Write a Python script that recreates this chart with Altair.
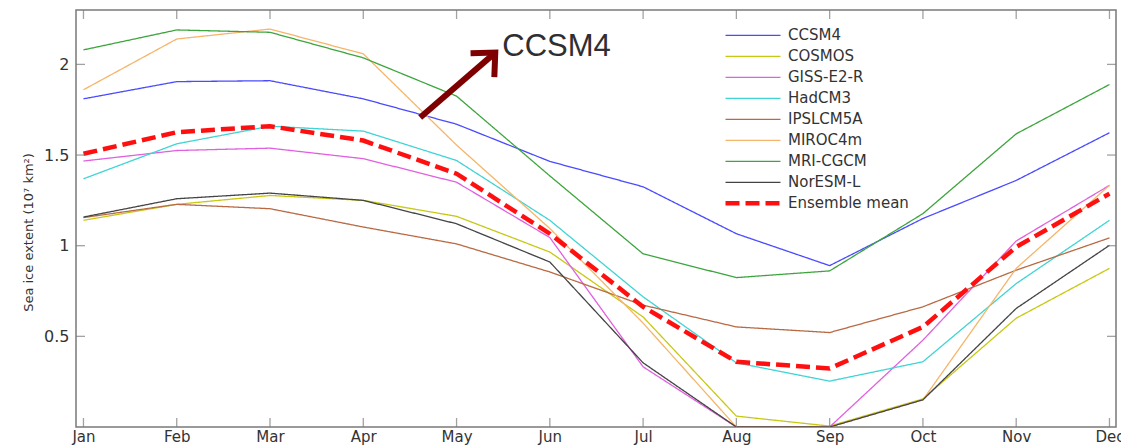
import altair as alt
import pandas as pd

# Monthly mean sea ice extent (10^7 km^2) for each model and the ensemble mean
months = list(range(1, 13))
month_labels = ["Jan", "Feb", "Mar", "Apr", "May", "Jun",
                "Jul", "Aug", "Sep", "Oct", "Nov", "Dec"]

ccsm4 = [1.81, 1.905, 1.91, 1.81, 1.67, 1.465, 1.325, 1.066, 0.89, 1.15, 1.36, 1.623]
cosmos = [1.14, 1.228, 1.277, 1.25, 1.162, 0.965, 0.607, 0.06, 0.005, 0.155, 0.6, 0.875]
giss_e2_r = [1.467, 1.525, 1.538, 1.48, 1.35, 1.045, 0.332, 0.0, 0.0, 0.479, 1.026, 1.333]
hadcm3 = [1.369, 1.562, 1.659, 1.632, 1.47, 1.14, 0.718, 0.354, 0.253, 0.36, 0.791, 1.14]
ipslcm5a = [1.155, 1.228, 1.204, 1.103, 1.01, 0.855, 0.672, 0.552, 0.521, 0.663, 0.865, 1.043]
miroc4m = [1.86, 2.14, 2.195, 2.058, 1.555, 1.095, 0.573, 0.0, 0.0, 0.15, 0.875, 1.333]
mri_cgcm = [2.08, 2.19, 2.177, 2.036, 1.825, 1.385, 0.955, 0.824, 0.861, 1.177, 1.617, 1.889]
noresm_l = [1.158, 1.259, 1.29, 1.25, 1.121, 0.91, 0.354, 0.0, 0.0, 0.15, 0.654, 1.002]
ensemble_mean = [1.507, 1.626, 1.659, 1.58, 1.397, 1.066, 0.663, 0.36, 0.323, 0.552, 0.993, 1.287]

model_names = ["CCSM4", "COSMOS", "GISS-E2-R", "HadCM3", "IPSLCM5A",
               "MIROC4m", "MRI-CGCM", "NorESM-L", "Ensemble mean"]
series = [ccsm4, cosmos, giss_e2_r, hadcm3, ipslcm5a,
          miroc4m, mri_cgcm, noresm_l, ensemble_mean]
line_colors = ["#4a4aff", "#c8c814", "#e060e0", "#40d4d4", "#b86a44",
               "#f5b56a", "#3ea53e", "#444444", "#ff1010"]
line_dashes = [[1, 0]] * 8 + [[14, 6]]
line_widths = [1.3] * 8 + [4.5]

y_ticks = [0.5, 1, 1.5, 2]
x_min, x_max = 0.92, 12.07
y_min, y_max = 0.0, 2.3

# Arrow annotation pointing at the CCSM4 curve
arrow_label = ["CCSM4"]
arrow_label_x = [5.49]
arrow_label_y = [2.095]
arrow_shaft_x = [4.61]
arrow_shaft_y = [1.707]
arrow_shaft_x2 = [5.40]
arrow_shaft_y2 = [2.058]
arrow_head_x = [5.15, 5.415, 5.405]
arrow_head_y = [2.062, 2.065, 1.93]

rows = []
for name, vals in zip(model_names, series):
    for m, v in zip(months, vals):
        rows.append({"month": m, "model": name, "extent": v})
df = pd.DataFrame(rows)

font = "DejaVu Sans"
frame_color = "#7a7a7a"

x_scale = alt.Scale(domain=[x_min, x_max], nice=False, zero=False)
y_scale = alt.Scale(domain=[y_min, y_max], nice=False, zero=False)

label_expr = "[" + ",".join("'%s'" % s for s in month_labels) + "][datum.value - 1]"

x_axis = alt.Axis(values=months, labelExpr=label_expr, title=None, grid=False,
                  ticks=False, domain=False, labelFontSize=15, labelColor="#333333",
                  labelPadding=2, labelFont=font)
y_axis = alt.Axis(values=y_ticks, format="~g", title="Sea ice extent (10⁷ km²)",
                  grid=False, ticks=False, domain=False, labelFontSize=16,
                  labelColor="#333333", labelPadding=7, labelFont=font,
                  titleFont=font, titleFontSize=13, titleFontWeight="normal",
                  titleColor="#333333", titleX=-48, titleY=222, titleAngle=270,
                  titleAlign="center", titleBaseline="middle")

lines = alt.Chart(df).mark_line(clip=True).encode(
    x=alt.X("month:Q", scale=x_scale, axis=x_axis),
    y=alt.Y("extent:Q", scale=y_scale, axis=y_axis),
    color=alt.Color("model:N", scale=alt.Scale(domain=model_names, range=line_colors),
                    sort=model_names,
                    legend=alt.Legend(title=None, orient="none", legendX=647, legendY=15,
                                      symbolType="stroke", symbolSize=3025,
                                      clipHeight=20.6, rowPadding=0, padding=0,
                                      labelOffset=5, labelFont=font, labelFontSize=15,
                                      labelColor="#333333", labelLimit=300)),
    strokeDash=alt.StrokeDash("model:N", scale=alt.Scale(domain=model_names, range=line_dashes),
                              sort=model_names, legend=None),
    strokeWidth=alt.StrokeWidth("model:N",
                                scale=alt.Scale(type="ordinal", domain=model_names, range=line_widths),
                                sort=model_names, legend=None),
    order=alt.Order("month:Q"),
)

tick_months = pd.DataFrame({"month": months})
tick_values = pd.DataFrame({"v": y_ticks})
tick_style = dict(color=frame_color, size=9, thickness=1.3)

bottom_ticks = alt.Chart(tick_months).mark_tick(orient="vertical", yOffset=-4.5, **tick_style).encode(
    x=alt.X("month:Q", scale=x_scale), y=alt.datum(y_min, scale=y_scale))
top_ticks = alt.Chart(tick_months).mark_tick(orient="vertical", yOffset=4.5, **tick_style).encode(
    x=alt.X("month:Q", scale=x_scale), y=alt.datum(y_max, scale=y_scale))
left_ticks = alt.Chart(tick_values).mark_tick(orient="horizontal", xOffset=4.5, **tick_style).encode(
    y=alt.Y("v:Q", scale=y_scale), x=alt.datum(x_min, scale=x_scale))
right_ticks = alt.Chart(tick_values).mark_tick(orient="horizontal", xOffset=-4.5, **tick_style).encode(
    y=alt.Y("v:Q", scale=y_scale), x=alt.datum(x_max, scale=x_scale))

arrow_color = "#7f0000"
shaft = alt.Chart(pd.DataFrame({"x": arrow_shaft_x, "y": arrow_shaft_y,
                                "x2": arrow_shaft_x2, "y2": arrow_shaft_y2})).mark_rule(
    color=arrow_color, strokeWidth=6, strokeCap="butt").encode(
    x=alt.X("x:Q", scale=x_scale), y=alt.Y("y:Q", scale=y_scale), x2="x2:Q", y2="y2:Q")
head = alt.Chart(pd.DataFrame({"x": arrow_head_x, "y": arrow_head_y,
                               "i": list(range(len(arrow_head_x)))})).mark_line(
    color=arrow_color, strokeWidth=6, strokeJoin="miter", strokeCap="butt").encode(
    x=alt.X("x:Q", scale=x_scale), y=alt.Y("y:Q", scale=y_scale), order="i:Q")
label = alt.Chart(pd.DataFrame({"x": arrow_label_x, "y": arrow_label_y,
                                "t": arrow_label})).mark_text(
    align="left", baseline="middle", fontSize=31, font="Liberation Sans",
    color="#2e2e33").encode(
    x=alt.X("x:Q", scale=x_scale), y=alt.Y("y:Q", scale=y_scale), text="t:N")

chart = alt.layer(lines, bottom_ticks, top_ticks, left_ticks, right_ticks,
                  shaft, head, label).properties(
    width=1040, height=417,
    autosize=alt.AutoSizeParams(type="none"),
    padding={"left": 76, "top": 10, "right": 5, "bottom": 19},
    background="white",
).configure_view(stroke=frame_color, strokeWidth=1.5)

chart.save("out.html", embed_options={"renderer": "svg", "actions": False})
